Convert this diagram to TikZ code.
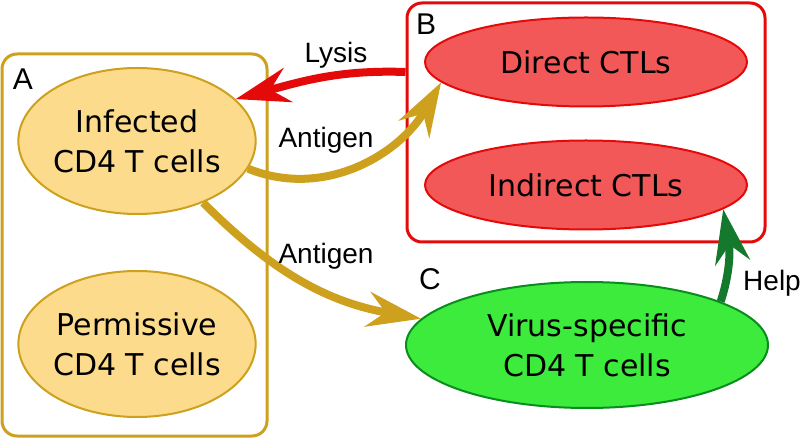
\documentclass[tikz,border=0pt]{standalone}
\usepackage{fontspec}
\setmainfont{Liberation Sans}
\newfontfamily\cellfont{DejaVu Sans}
\usetikzlibrary{arrows.meta,positioning,shapes.geometric}
\definecolor{goldline}{RGB}{205,160,30}
\definecolor{goldfill}{RGB}{252,220,140}
\definecolor{redline}{RGB}{228,10,10}
\definecolor{redfill}{RGB}{242,88,88}
\definecolor{greenline}{RGB}{10,140,30}
\definecolor{greenfill}{RGB}{60,235,60}
\definecolor{helpgreen}{RGB}{20,120,45}
\tikzset{
    %Define standard arrow tip
    >={Stealth[length=54pt,width=35pt,inset=18pt]},
    %Define style for boxes
    group/.style={
           rectangle,
           rounded corners=15pt,
           line width=3pt},
    cell/.style={
           ellipse,
           line width=2pt,
           inner sep=0pt,
           align=center,
           font=\cellfont\fontsize{30}{40}\selectfont},
    tcell/.style={cell, draw=goldline, fill=goldfill,
           minimum width=231pt, minimum height=146pt},
    ctl/.style={cell, draw=redline, fill=redfill,
           minimum width=322pt, minimum height=89pt},
    helper/.style={cell, draw=greenline, fill=greenfill,
           minimum width=362pt, minimum height=126pt},
    letter/.style={font=\fontsize{30}{36}\selectfont},
    lbl/.style={font=\fontsize{28}{34}\selectfont},
    % Define arrow style
    pil/.style={
           ->,
           line width=8pt}
}

\begin{document}
\begin{tikzpicture}[x=1pt,y=1pt]
\useasboundingbox (0,0) rectangle (800,439);
% groups
\node[group, draw=goldline, minimum width=265pt, minimum height=382pt](boxA) at (134.5,194){};
\node[group, draw=redline, minimum width=358pt, minimum height=239pt](boxB) at (586,316.5){};
\node[letter](la) at (23,360){A};
\node[letter](lb) at (426,415){B};
\node[letter](lc) at (430,160){C};
% cells
\node[tcell](inf) at (137,298){Infected\\CD4 T cells};
\node[tcell, below=55pt of inf](perm){Permissive\\CD4 T cells};
\node[ctl](direct) at (586,377){Direct CTLs};
\node[ctl, below=32pt of direct](indirect){Indirect CTLs};
\node[helper](virus) at (587,94){Virus-specific\\CD4 T cells};
% arrows
\coordinate (lysisstart) at ([yshift=50.5pt]boxB.west);
\draw[pil, redline] (lysisstart) to[out=178, in=15] (inf.23);
\draw[pil, goldline] (inf.-14) to[out=-22, in=240] (direct.188);
\draw[pil, goldline] (inf.-43) to[out=-45, in=170] (virus.171);
\draw[pil, helpgreen] (virus.18) to[out=72, in=280] (indirect.-10);
\node[lbl](lysis) at (336,384){Lysis};
\node[lbl](ag1) at (326,299){Antigen};
\node[lbl](ag2) at (326,183){Antigen};
\node[lbl](help) at (772,156){Help};
\end{tikzpicture}
\end{document}
